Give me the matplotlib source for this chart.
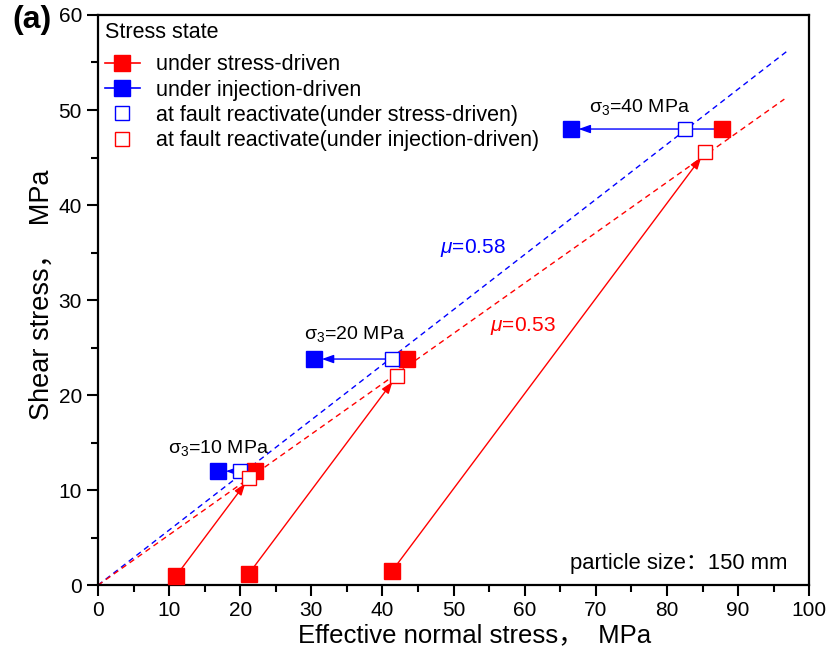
"""
Shear vs effective normal stress paths (stress-driven / injection-driven),
with friction lines mu=0.58 and mu=0.53.
"""

import numpy as np
import matplotlib
matplotlib.use('Agg')
import matplotlib.pyplot as plt
from matplotlib.lines import Line2D

plt.rcParams['font.family'] = ['Liberation Sans', 'Noto Sans CJK SC', 'DejaVu Sans']
plt.rcParams['mathtext.fontset'] = 'custom'
plt.rcParams['mathtext.rm'] = 'Liberation Sans'
plt.rcParams['mathtext.it'] = 'Liberation Sans:italic'

# confining pressure cases
sigma3 = [10, 20, 40]

# stress-driven path: start (bottom) -> end
start_x = [11.0, 21.2, 41.3]
start_y = [1.0, 1.2, 1.45]
stress_x = [22.1, 43.5, 87.8]
stress_y = [12.0, 23.8, 48.0]

# injection-driven end points
inject_x = [16.9, 30.4, 66.5]
inject_y = [12.0, 23.8, 48.0]

# fault reactivation points
react_stress_x = [20.0, 41.3, 82.5]
react_stress_y = [12.0, 23.8, 48.0]
react_inject_x = [21.3, 42.0, 85.4]
react_inject_y = [11.3, 22.0, 45.6]

# friction lines
mu_blue = 0.58
mu_red = 0.53
x_end_blue = 97.0
x_end_red = 96.5

RED = '#ff0000'
BLUE = '#0000ff'
MS = 11

fig = plt.figure(figsize=(8.30, 6.51), dpi=100)
ax = fig.add_axes([0.118, 0.101, 0.857, 0.876])

# friction lines
xb = np.array([0, x_end_blue])
xr = np.array([0, x_end_red])
ax.plot(xb, mu_blue * xb, ls=(0, (4, 3)), color=BLUE, lw=1.0, zorder=2)
ax.plot(xr, mu_red * xr, ls=(0, (4, 3)), color=RED, lw=1.0, zorder=2)

arrow_kw = dict(arrowstyle='-|>,head_length=0.7,head_width=0.25', lw=1.0)

for i in range(len(sigma3)):
    # stress-driven path arrow (bottom -> reactivation)
    ax.annotate('', xy=(react_inject_x[i], react_inject_y[i]),
                xytext=(start_x[i], start_y[i]),
                arrowprops=dict(color=RED, shrinkA=4, shrinkB=5, **arrow_kw),
                zorder=3)
    # injection-driven arrow (stress end -> injection end)
    ax.annotate('', xy=(inject_x[i], inject_y[i]),
                xytext=(stress_x[i], stress_y[i]),
                arrowprops=dict(color=BLUE, shrinkA=0, shrinkB=5.5, **arrow_kw),
                zorder=3)

ax.plot(start_x, start_y, 's', color=RED, ms=MS, ls='none', zorder=5)
ax.plot(stress_x, stress_y, 's', color=RED, ms=MS, ls='none', zorder=5)
ax.plot(inject_x, inject_y, 's', color=BLUE, ms=MS, ls='none', zorder=5)
ax.plot(react_stress_x, react_stress_y, 's', mfc='white', mec=BLUE, mew=1.0,
        ms=MS - 0.5, ls='none', zorder=6)
ax.plot(react_inject_x, react_inject_y, 's', mfc='white', mec=RED, mew=1.0,
        ms=MS - 0.5, ls='none', zorder=7)

# annotations
sig_pos = [(16.9, 14.4), (36.1, 26.4), (76.1, 50.3)]
for s, (tx, ty) in zip(sigma3, sig_pos):
    ax.text(tx, ty, r'σ$_3$=%d MPa' % s, fontsize=14, ha='center', va='center')

ax.text(52.7, 35.5, r'$\it{\mu}$=0.58', color=BLUE, fontsize=15,
        ha='center', va='center')
ax.text(59.7, 27.3, r'$\it{\mu}$=0.53', color=RED, fontsize=15,
        ha='center', va='center')
ax.text(96.9, 2.3, 'particle size：150 mm', fontsize=15.8, ha='right', va='center')

ax.set_xlim(0, 100)
ax.set_ylim(0, 60)
ax.set_xticks(np.arange(0, 101, 10))
ax.set_yticks(np.arange(0, 61, 10))
ax.set_xticks(np.arange(5, 100, 10), minor=True)
ax.set_yticks(np.arange(5, 60, 10), minor=True)
ax.tick_params(axis='both', which='major', direction='out', length=8, width=1.5,
               labelsize=15, top=False, right=False)
ax.tick_params(axis='both', which='minor', direction='out', length=5, width=1.5,
               top=False, right=False)
for sp in ax.spines.values():
    sp.set_linewidth(1.6)

ax.set_xlabel('Effective normal stress，  MPa', fontsize=18.5, va='center')
ax.set_ylabel('Shear stress，  MPa', fontsize=19.5, va='center')
ax.xaxis.set_label_coords(0.529, -0.087)
ax.yaxis.set_label_coords(-0.079, 0.509)

fig.text(0.015, 0.969, '(a)', fontsize=23, fontweight='bold', ha='left', va='center')

handles = [
    Line2D([], [], color=RED, marker='s', ms=MS, lw=1.2),
    Line2D([], [], color=BLUE, marker='s', ms=MS, lw=1.2),
    Line2D([], [], color=BLUE, marker='s', mfc='white', mec=BLUE, ms=MS - 1, ls='none'),
    Line2D([], [], color=RED, marker='s', mfc='white', mec=RED, ms=MS - 1, ls='none'),
]
labels = ['under stress-driven', 'under injection-driven',
          'at fault reactivate(under stress-driven)',
          'at fault reactivate(under injection-driven)']
leg = ax.legend(handles, labels, loc='upper left', frameon=False, fontsize=15.5,
                title='Stress state', title_fontsize=15.5, alignment='left',
                handlelength=1.6, handletextpad=0.75, labelspacing=0.2,
                bbox_to_anchor=(0.004, 0.995), borderaxespad=0.0, borderpad=0.2)
# a bit more room between the title and the first entry
leg._legend_box.sep = 8

fig.savefig('out.png', dpi=100)
